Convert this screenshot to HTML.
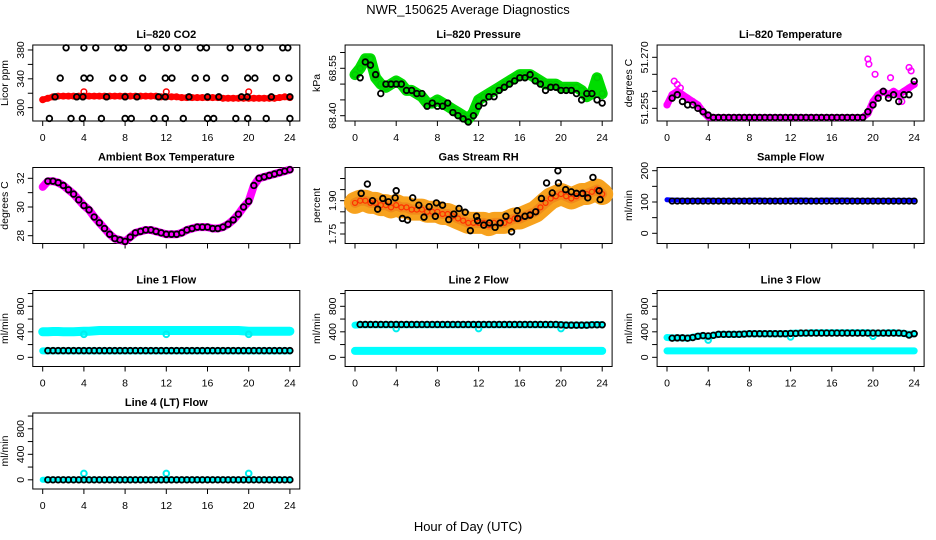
<!DOCTYPE html>
<html><head><meta charset="utf-8">
<style>
html,body{margin:0;padding:0;background:#fff;}
svg{display:block;font-family:"Liberation Sans",Arial,sans-serif;}
</style></head>
<body>
<svg id="chart" width="936" height="540" viewBox="0 0 936 540" xmlns="http://www.w3.org/2000/svg">
<text x="468" y="14" text-anchor="middle" font-size="13">NWR_150625  Average Diagnostics</text>
<text x="468" y="531" text-anchor="middle" font-size="13">Hour of Day (UTC)</text>
</svg>
<script>
// ---------- data ----------
const hours = [0,0.5,1,1.5,2,2.5,3,3.5,4,4.5,5,5.5,6,6.5,7,7.5,8,8.5,9,9.5,10,10.5,11,11.5,12,12.5,13,13.5,14,14.5,15,15.5,16,16.5,17,17.5,18,18.5,19,19.5,20,20.5,21,21.5,22,22.5,23,23.5,24];
const hoursB = [0.5,1,1.5,2,2.5,3,3.5,4,4.5,5,5.5,6,6.5,7,7.5,8,8.5,9,9.5,10,10.5,11,11.5,12,12.5,13,13.5,14,14.5,15,15.5,16,16.5,17,17.5,18,18.5,19,19.5,20,20.5,21,21.5,22,22.5,23,23.5,24];
const xTicks = [0,4,8,12,16,20,24];

const co2Red = [311,313,315,316,316,316,316,316,316,316,316,316,316,316,316,316,316,316,316,316,316,316,316,315,315,315,315,314,314,314,314,314,314,314,314,313,313,313,313,313,313,313,313,313,313,313,314,315,314];
const co2BlackHours = [2.27,4.0,5.15,7.3,7.85,10.2,12.0,13.1,15.3,15.9,18.2,19.9,21.1,23.3,23.8, 1.7,4.0,4.6,6.8,7.9,9.7,11.9,12.55,14.8,15.9,17.7,19.9,20.6,22.7,23.9, 1.2,3.3,3.9,6.2,8.0,9.15,11.25,11.9,14.2,16.0,17.1,19.3,19.85,22.2,24, 0.65,2.75,3.85,5.7,8.0,8.6,10.8,11.9,13.65,16.0,16.6,18.75,19.9,21.7,24];
const co2BlackValues = [383,383,383,383,383,383,383,383,383,383,383,383,383,383,383, 341,341,341,341,341,341,341,341,341,341,341,341,341,341,341, 315,315,315,315,315,315,315,315,315,315,315,315,315,315,315, 285,285,285,285,285,285,285,285,285,285,285,285,285,285,285];
const co2OutHours = [4.0,12.0,20.0];
const co2OutValues = [322,322,322];

const pressGreen = [68.53,68.55,68.58,68.58,68.52,68.50,68.49,68.50,68.51,68.50,68.48,68.48,68.47,68.46,68.44,68.44,68.45,68.44,68.43,68.42,68.41,68.40,68.39,68.41,68.45,68.46,68.47,68.48,68.49,68.50,68.51,68.52,68.53,68.53,68.53,68.52,68.51,68.50,68.50,68.50,68.49,68.49,68.49,68.49,68.48,68.46,68.47,68.52,68.47];
const pressBlack = [68.52,68.57,68.56,68.53,68.47,68.50,68.50,68.50,68.50,68.48,68.48,68.47,68.47,68.43,68.44,68.43,68.43,68.44,68.41,68.40,68.39,68.38,68.40,68.43,68.44,68.46,68.46,68.48,68.49,68.50,68.51,68.52,68.52,68.53,68.51,68.50,68.48,68.49,68.49,68.48,68.48,68.48,68.47,68.45,68.47,68.47,68.45,68.44];

const liTempMag = [51.256,51.259,51.260,51.259,51.258,51.257,51.256,51.254,51.2525,51.2523,51.2523,51.2523,51.2523,51.2523,51.2523,51.2523,51.2523,51.2523,51.2523,51.2523,51.2523,51.2523,51.2523,51.2523,51.2523,51.2523,51.2523,51.2523,51.2523,51.2523,51.2523,51.2523,51.2523,51.2523,51.2523,51.2523,51.2523,51.2523,51.2523,51.2535,51.257,51.259,51.260,51.259,51.260,51.259,51.260,51.261,51.262];
const liTempBlack = [51.258,51.259,51.257,51.256,51.256,51.255,51.254,51.253,51.2523,51.2523,51.2523,51.2523,51.2523,51.2523,51.2523,51.2523,51.2523,51.2523,51.2523,51.2523,51.2523,51.2523,51.2523,51.2523,51.2523,51.2523,51.2523,51.2523,51.2523,51.2523,51.2523,51.2523,51.2523,51.2523,51.2523,51.2523,51.2523,51.2523,51.254,51.256,51.258,51.260,51.258,51.259,51.257,51.259,51.259,51.263];
const liTempOutHours = [0.7,1.0,1.3,19.5,19.6,20.2,21.7,23.5,23.7,22.8];
const liTempOutValues = [51.263,51.262,51.261,51.2695,51.268,51.265,51.264,51.267,51.266,51.257];

const ambientTemp = [31.4,31.8,31.8,31.7,31.5,31.2,30.9,30.5,30.1,29.8,29.3,28.9,28.5,28.1,27.8,27.7,27.6,27.9,28.2,28.3,28.4,28.4,28.3,28.2,28.1,28.1,28.1,28.2,28.4,28.5,28.6,28.6,28.6,28.5,28.5,28.6,28.8,29.1,29.5,30.0,30.4,31.5,32.0,32.1,32.2,32.3,32.4,32.5,32.6];

const rhOrange = [1.89,1.90,1.90,1.89,1.89,1.88,1.88,1.87,1.88,1.87,1.87,1.86,1.86,1.86,1.85,1.85,1.85,1.84,1.84,1.83,1.82,1.81,1.80,1.80,1.80,1.80,1.79,1.80,1.80,1.80,1.81,1.82,1.82,1.83,1.84,1.85,1.87,1.89,1.91,1.92,1.93,1.92,1.91,1.92,1.93,1.93,1.94,1.95,1.93];
const rhBlackHours = [0.6,1.2,1.7,2.2,2.7,3.25,3.9,4.0,4.6,5.1,5.6,6.2,6.7,7.2,7.9,7.8,8.5,9.1,9.6,10.1,10.7,11.2,11.8,11.9,12.5,13.05,13.6,14.1,14.65,15.2,15.75,15.8,16.5,17.0,17.55,18.1,18.6,19.15,19.7,19.75,20.45,21.0,21.5,22.1,22.6,23.1,23.7,23.8];
const rhBlackValues = [1.933,1.975,1.90,1.862,1.91,1.895,1.913,1.945,1.82,1.813,1.913,1.88,1.826,1.873,1.89,1.83,1.88,1.815,1.84,1.865,1.848,1.765,1.83,1.81,1.79,1.80,1.78,1.80,1.83,1.76,1.855,1.82,1.83,1.835,1.85,1.91,1.98,1.935,2.035,1.98,1.95,1.94,1.933,1.933,1.913,2.005,1.945,1.905];

const sampleBlue = [107,106,106,105,105,105,105,105,106,105,105,105,105,105,105,105,105,106,106,105,105,105,105,105,106,106,106,106,105,105,106,106,106,106,106,106,105,105,105,105,105,105,105,105,105,105,105,105,105];
const sampleBlack = [103,103,103,103,103,103,103,103,103,103,103,103,103,103,103,103,103,103,103,103,103,103,103,103,103,103,103,103,103,103,103,103,103,103,103,103,103,103,103,103,103,103,103,103,103,103,103,103];

const line1CyanHigh = [400,400,405,405,400,400,400,405,410,410,415,420,420,420,420,420,420,420,420,420,420,420,420,420,420,420,420,420,420,420,420,420,420,420,420,420,420,420,420,415,410,410,410,410,410,410,410,410,410];
const line1CyanLow = [100,100,100,100,100,100,100,100,100,100,100,100,100,100,100,100,100,100,100,100,100,100,100,100,100,100,100,100,100,100,100,100,100,100,100,100,100,100,100,100,100,100,100,100,100,100,100,100,100];
const line1Black = [105,105,105,105,105,105,105,105,105,105,105,105,105,105,105,105,105,105,105,105,105,105,105,105,105,105,105,105,105,105,105,105,105,105,105,105,105,105,105,105,105,105,105,105,105,105,105,105];
const line1OutHours = [4,12,20];
const line1OutValues = [360,360,360];

const line2CyanHigh = [505,510,510,510,510,510,510,510,510,510,510,510,510,510,510,510,510,510,510,510,510,510,510,510,510,510,510,510,510,510,510,510,510,510,510,510,510,510,510,510,510,505,505,505,505,505,510,515,510];
const line2CyanLow = [100,100,100,100,100,100,100,100,100,100,100,100,100,100,100,100,100,100,100,100,100,100,100,100,100,100,100,100,100,100,100,100,100,100,100,100,100,100,100,100,100,100,100,100,100,100,100,100,100];
const line2Black = [515,515,515,515,515,515,515,515,515,515,515,515,515,515,515,515,515,515,515,515,515,515,515,515,515,515,515,515,515,515,515,515,515,515,515,515,515,515,515,510,505,505,505,505,505,510,510,510];
const line2OutHours = [4,12,20];
const line2OutValues = [450,450,450];

const line3Black = [300,305,305,300,310,330,340,335,345,360,360,360,360,360,365,370,370,370,370,370,370,370,370,375,375,380,380,380,380,380,380,380,380,380,380,380,380,380,380,380,380,380,380,380,380,375,350,370];
const line3CyanHigh = [310,305,305,305,300,315,330,340,320,345,360,360,360,360,360,365,370,370,370,370,370,370,370,370,375,380,380,380,385,385,385,385,385,385,385,385,385,385,385,385,380,380,380,385,385,380,375,360,370];
const line3CyanLow = [100,100,100,100,100,100,100,100,100,100,100,100,100,100,100,100,100,100,100,100,100,100,100,100,100,100,100,100,100,100,100,100,100,100,100,100,100,100,100,100,100,100,100,100,100,100,100,100,100];
const line3OutHours = [4,12,20];
const line3OutValues = [270,320,330];

const line4Cyan = [0,0,0,0,0,0,0,0,0,0,0,0,0,0,0,0,0,0,0,0,0,0,0,0,0,0,0,0,0,0,0,0,0,0,0,0,0,0,0,0,0,0,0,0,0,0,0,0,0];
const line4Black = [0,0,0,0,0,0,0,0,0,0,0,0,0,0,0,0,0,0,0,0,0,0,0,0,0,0,0,0,0,0,0,0,0,0,0,0,0,0,0,0,0,0,0,0,0,0,0,0];
const line4OutHours = [4,12,20];
const line4OutValues = [100,100,100];

// ---------- layout ----------
const NS = "http://www.w3.org/2000/svg";
const svg = document.getElementById('chart');
const colX0 = [42.7, 355, 667];
const PX = 10.3;
const rowTop = [45, 167.5, 290.5, 413];
const BH = 76;

function mk(tag, attrs, parent){
  const e = document.createElementNS(NS, tag);
  for (const k in attrs) e.setAttribute(k, attrs[k]);
  (parent||svg).appendChild(e);
  return e;
}

function makePanel(p){
  const g = mk('g', {});
  
  
  p.g = g;
  const x0 = colX0[p.col], top = rowTop[p.row];
  p.xs = h => x0 + h*PX;
  p.ys = v => top + (p.ymax - v)/(p.ymax - p.ymin)*BH;
  const left = x0 - 9.9, right = x0 + 24*PX + 9.9;
  p.left = left; p.top = top;
  const r = mk('rect', {x:left, y:top, width:right-left, height:BH, fill:'none', stroke:'#000', 'stroke-width':1}, g);
  
  
  const t = mk('text', {x:(left+right)/2, y:top-7, 'text-anchor':'middle', 'font-size':11, 'font-weight':'bold'}, g);
  t.textContent = p.title;
  
  
  // x axis
  const bot = top + BH;
  for (const h of xTicks){
    const tk = mk('line', {x1:p.xs(h), x2:p.xs(h), y1:bot, y2:bot+5, stroke:'#000', 'stroke-width':1}, g);
    
    
    if (p.xlabels){
      const tl = mk('text', {x:p.xs(h), y:bot+20, 'text-anchor':'middle', 'font-size':10.5}, g);
      tl.textContent = String(h);
      
      
    }
  }
  // y axis
  for (const v of p.yticks){
    const y = p.ys(v);
    const tk = mk('line', {x1:left-5, x2:left, y1:y, y2:y, stroke:'#000', 'stroke-width':1}, g);
    
    
  }
  for (const v of p.ylabels){
    const y = p.ys(v);
    const tl = mk('text', {x:left-9, y:y, 'text-anchor':'middle', 'font-size':10.5, transform:`rotate(-90 ${left-9} ${y})`}, g);
    tl.textContent = p.fmt(v);
    
    
  }
  const yt = mk('text', {x:left-25, y:top+BH/2, 'text-anchor':'middle', 'font-size':10.5, transform:`rotate(-90 ${left-25} ${top+BH/2})`}, g);
  yt.textContent = p.ytitle;
  
  
  return p;
}

function band(p, xsArr, vals, color, width){
  const pts = [];
  const n = Math.min(xsArr.length, vals.length);
  for (let i=0;i<n;i++) pts.push(p.xs(xsArr[i]).toFixed(1)+','+p.ys(vals[i]).toFixed(1));
  const pl = mk('polyline', {points:pts.join(' '), fill:'none', stroke:color, 'stroke-width':width, 'stroke-linejoin':'round', 'stroke-linecap':'round'}, p.g);
  
  
}

function points(p, xsArr, vals, color, sw, r){
  const n = Math.min(xsArr.length, vals.length);
  for (let i=0;i<n;i++){
    const c = mk('circle', {cx:p.xs(xsArr[i]), cy:p.ys(vals[i]), r:r||2.8, fill:'none', stroke:color, 'stroke-width':sw||1.8}, p.g);
    
    
  }
}

const flowTicks = [0,200,400,600,800,1000], flowLabels = [0,400,800];
const fInt = v => String(v);

// Panel 1: CO2
const p1 = makePanel({name:'panel-li820-co2', title:'Li\u2013820 CO2', col:0, row:0, ymin:281.5, ymax:386.9, yticks:[300,320,340,360,380], ylabels:[300,340,380], fmt:fInt, ytitle:'Licor ppm', xlabels:true});
band(p1, hours, co2Red, '#ff0000', 6);
points(p1, hours, co2Red, '#ff0000', 1.5);
points(p1, co2OutHours, co2OutValues, '#ff0000', 1.5);
points(p1, co2BlackHours, co2BlackValues, '#000', 1.8);

// Panel 2: Pressure
const p2 = makePanel({name:'panel-li820-pressure', title:'Li\u2013820 Pressure', col:1, row:0, ymin:68.3832, ymax:68.6237, yticks:[68.40,68.45,68.50,68.55,68.60], ylabels:[68.40,68.55], fmt:v=>v.toFixed(2), ytitle:'kPa', xlabels:true});
band(p2, hours, pressGreen, '#00dd00', 11);
points(p2, hours, pressGreen, '#00cc00', 1.5);
points(p2, hoursB, pressBlack, '#000', 1.8);

// Panel 3: Li-820 Temperature
const p3 = makePanel({name:'panel-li820-temperature', title:'Li\u2013820 Temperature', col:2, row:0, ymin:51.25127, ymax:51.27362, yticks:[51.255,51.260,51.265,51.270], ylabels:[51.255,51.270], fmt:v=>v.toFixed(3), ytitle:'degrees C', xlabels:true});
band(p3, hours, liTempMag, '#ff00ff', 7);
points(p3, hours, liTempMag, '#ff00ff', 1.6);
points(p3, liTempOutHours, liTempOutValues, '#ff00ff', 1.6);
points(p3, hoursB, liTempBlack, '#000', 1.8);

// Panel 4: Ambient
const p4 = makePanel({name:'panel-ambient-box-temperature', title:'Ambient Box Temperature', col:0, row:1, ymin:27.456, ymax:32.753, yticks:[28,29,30,31,32], ylabels:[28,30,32], fmt:fInt, ytitle:'degrees C', xlabels:false});
band(p4, hours, ambientTemp, '#ff00ff', 8);
points(p4, hoursB, ambientTemp.slice(1), '#000', 1.8);

// Panel 5: RH
const p5 = makePanel({name:'panel-gas-stream-rh', title:'Gas Stream RH', col:1, row:1, ymin:1.7072, ymax:2.0496, yticks:[1.75,1.80,1.85,1.90,1.95,2.00], ylabels:[1.75,1.90], fmt:v=>v.toFixed(2), ytitle:'percent', xlabels:false});
band(p5, hours, rhOrange, '#f7a21e', 22);
band(p5, hours, rhOrange, '#f08a1a', 10);
points(p5, hours, rhOrange, '#ff3000', 1.2, 2.5);
points(p5, rhBlackHours, rhBlackValues, '#000', 1.8);

// Panel 6: Sample flow
const p6 = makePanel({name:'panel-sample-flow', title:'Sample Flow', col:2, row:1, ymin:-32.6, ymax:210.2, yticks:[0,50,100,150,200], ylabels:[0,100,200], fmt:fInt, ytitle:'ml/min', xlabels:false});
band(p6, hours, sampleBlue, '#0000ff', 5);
points(p6, hoursB, sampleBlack, '#000', 1.6);

// Line flows
const fy = {ymin:-144, ymax:1047.8, yticks:flowTicks, ylabels:flowLabels, fmt:fInt, ytitle:'ml/min'};
const p7 = makePanel(Object.assign({name:'panel-line1-flow', title:'Line 1 Flow', col:0, row:2, xlabels:true}, fy));
band(p7, hours, line1CyanHigh, '#00ffff', 9);
band(p7, hours, line1CyanLow, '#00ffff', 7);
points(p7, line1OutHours, line1OutValues, '#00eeee', 2);
points(p7, hoursB, line1Black, '#000', 1.8);

const p8 = makePanel(Object.assign({name:'panel-line2-flow', title:'Line 2 Flow', col:1, row:2, xlabels:true}, fy));
band(p8, hours, line2CyanHigh, '#00ffff', 7);
band(p8, hours, line2CyanLow, '#00ffff', 8);
points(p8, line2OutHours, line2OutValues, '#00eeee', 2);
points(p8, hoursB, line2Black, '#000', 1.8);

const p9 = makePanel(Object.assign({name:'panel-line3-flow', title:'Line 3 Flow', col:2, row:2, xlabels:true}, fy));
band(p9, hours, line3CyanHigh, '#00ffff', 7);
band(p9, hours, line3CyanLow, '#00ffff', 7);
points(p9, line3OutHours, line3OutValues, '#00eeee', 2);
points(p9, hoursB, line3Black, '#000', 1.8);

const p10 = makePanel(Object.assign({name:'panel-line4-flow', title:'Line 4 (LT) Flow', col:0, row:3, xlabels:true}, fy));
band(p10, hours, line4Cyan, '#00ffff', 6);
points(p10, line4OutHours, line4OutValues, '#00eeee', 2);
points(p10, hoursB, line4Black, '#000', 1.8);
</script>
</body></html>
